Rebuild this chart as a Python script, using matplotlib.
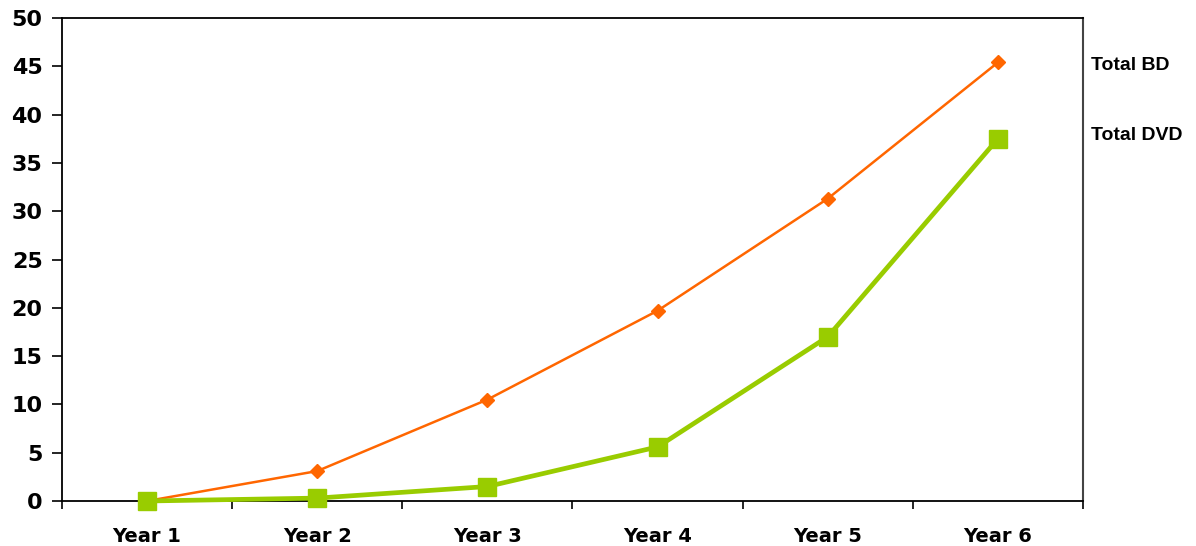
import matplotlib
matplotlib.use("Agg")
import matplotlib.pyplot as plt
import numpy as np

years = ["Year 1", "Year 2", "Year 3", "Year 4", "Year 5", "Year 6"]
totalBD = [0.0, 3.1, 10.5, 19.7, 31.3, 45.4]
totalDVD = [0.0, 0.3, 1.5, 5.6, 17.0, 37.5]
seriesNames = ["Total BD", "Total DVD"]

plt.rcParams['font.family'] = ['DejaVu Sans']

fig = plt.figure(figsize=(11.96, 5.46), dpi=100)
ax = fig.add_axes([62/1196, 1-501/546, (1083-62)/1196, (501-18)/546])

x = np.arange(1, len(years) + 1)
ax.plot(x, totalBD, color="#FF6600", lw=1.8, marker="D", ms=7, mec="#FF6600", mfc="#FF6600", zorder=3, clip_on=False)
ax.plot(x, totalDVD, color="#99CC00", lw=3.4, marker="s", ms=12.5, mec="#99CC00", mfc="#99CC00", zorder=3, clip_on=False)

ax.set_xlim(0.5, len(years) + 0.5)
ax.set_ylim(0, 50)
ax.set_yticks(range(0, 51, 5))
ax.tick_params(axis="y", direction="out", length=7, width=1.2, labelsize=16, pad=7)
for lbl in ax.get_yticklabels():
    lbl.set_fontweight("bold")

# category boundaries as major ticks, labels on minor ticks
ax.set_xticks(np.arange(0.5, len(years) + 1, 1))
ax.set_xticklabels([])
ax.tick_params(axis="x", which="major", direction="out", length=6, width=1.2)
ax.set_xticks(x, minor=True)
ax.set_xticklabels(years, minor=True, fontsize=14, fontweight="bold")
ax.tick_params(axis="x", which="minor", length=0, pad=18.5)

for s in ["left", "top", "bottom"]:
    ax.spines[s].set_color("black")
    ax.spines[s].set_linewidth(1.3)
ax.spines["right"].set_color("#444444")
ax.spines["right"].set_linewidth(1.5)

# series labels at right
fig.text(1091/1196, 1-66/546, seriesNames[0], fontsize=14, fontweight="bold",
         family="Liberation Sans", va="center", ha="left")
fig.text(1091/1196, 1-135/546, seriesNames[1], fontsize=14, fontweight="bold",
         family="Liberation Sans", va="center", ha="left")

fig.savefig("out.png", dpi=100)
